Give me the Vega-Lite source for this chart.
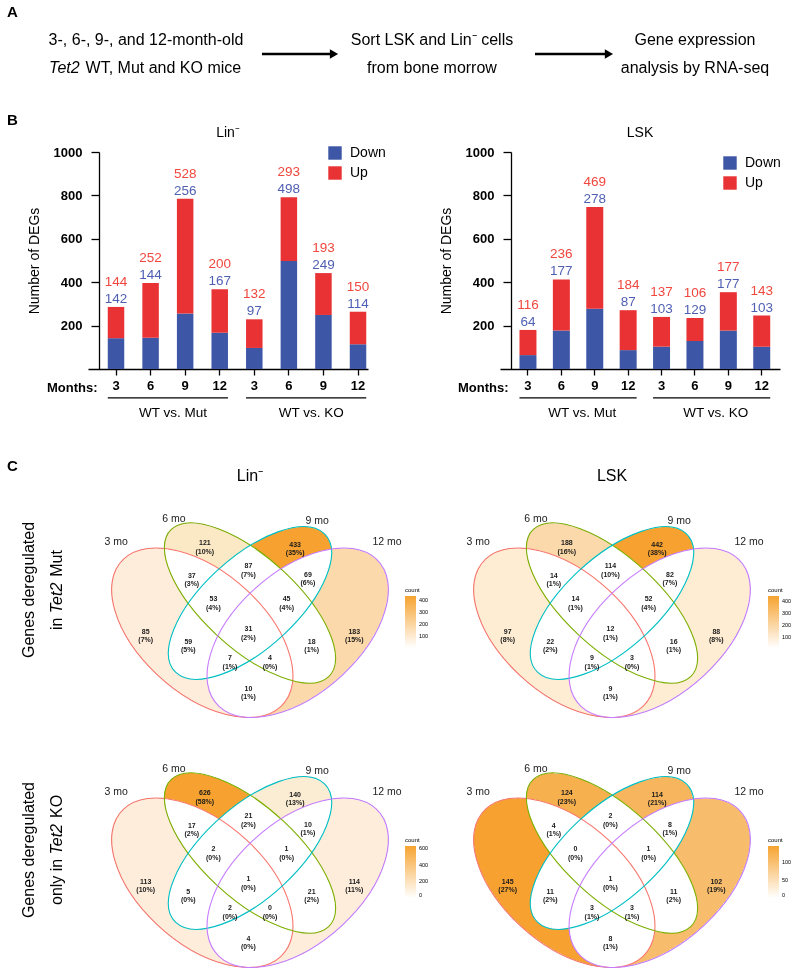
{
"$schema": "https://vega.github.io/schema/vega-lite/v6.json",
"background": "white",
"padding": 0,
"config": {
  "font": "Liberation Sans",
  "view": {"stroke": null},
  "axis": {"grid": false, "domainColor": "black", "tickColor": "black", "labelColor": "black", "titleColor": "black"},
  "title": {"color": "black", "fontWeight": "normal", "font": "Liberation Sans"},
  "legend": {"labelColor": "black", "titleColor": "black"}
},
"datasets": {
  "bars": [
    {"cell":"Lin","key":"Mut 3","dir":"Down","n":142},{"cell":"Lin","key":"Mut 3","dir":"Up","n":144},
    {"cell":"Lin","key":"Mut 6","dir":"Down","n":144},{"cell":"Lin","key":"Mut 6","dir":"Up","n":252},
    {"cell":"Lin","key":"Mut 9","dir":"Down","n":256},{"cell":"Lin","key":"Mut 9","dir":"Up","n":528},
    {"cell":"Lin","key":"Mut 12","dir":"Down","n":167},{"cell":"Lin","key":"Mut 12","dir":"Up","n":200},
    {"cell":"Lin","key":"KO 3","dir":"Down","n":97},{"cell":"Lin","key":"KO 3","dir":"Up","n":132},
    {"cell":"Lin","key":"KO 6","dir":"Down","n":498},{"cell":"Lin","key":"KO 6","dir":"Up","n":293},
    {"cell":"Lin","key":"KO 9","dir":"Down","n":249},{"cell":"Lin","key":"KO 9","dir":"Up","n":193},
    {"cell":"Lin","key":"KO 12","dir":"Down","n":114},{"cell":"Lin","key":"KO 12","dir":"Up","n":150},
    {"cell":"LSK","key":"Mut 3","dir":"Down","n":64},{"cell":"LSK","key":"Mut 3","dir":"Up","n":116},
    {"cell":"LSK","key":"Mut 6","dir":"Down","n":177},{"cell":"LSK","key":"Mut 6","dir":"Up","n":236},
    {"cell":"LSK","key":"Mut 9","dir":"Down","n":278},{"cell":"LSK","key":"Mut 9","dir":"Up","n":469},
    {"cell":"LSK","key":"Mut 12","dir":"Down","n":87},{"cell":"LSK","key":"Mut 12","dir":"Up","n":184},
    {"cell":"LSK","key":"KO 3","dir":"Down","n":103},{"cell":"LSK","key":"KO 3","dir":"Up","n":137},
    {"cell":"LSK","key":"KO 6","dir":"Down","n":129},{"cell":"LSK","key":"KO 6","dir":"Up","n":106},
    {"cell":"LSK","key":"KO 9","dir":"Down","n":177},{"cell":"LSK","key":"KO 9","dir":"Up","n":177},
    {"cell":"LSK","key":"KO 12","dir":"Down","n":103},{"cell":"LSK","key":"KO 12","dir":"Up","n":143}
  ],
  "groups": [
    {"from":"Mut 3","to":"Mut 12","mid":"Mut 9","label":"WT vs. Mut"},
    {"from":"KO 3","to":"KO 12","mid":"KO 9","label":"WT vs. KO"}
  ],
  "ellipses": [
    {"set":"3 mo","cx":0.35,"cy":0.47,"lx":0.079,"ly":0.776},
    {"set":"6 mo","cx":0.5,"cy":0.57,"lx":0.261,"ly":0.853},
    {"set":"9 mo","cx":0.5,"cy":0.57,"lx":0.711,"ly":0.847},
    {"set":"12 mo","cx":0.65,"cy":0.47,"lx":0.931,"ly":0.776}
  ],
  "regions": [
    {"id":"A","x":0.172,"y":0.46},{"id":"B","x":0.358,"y":0.758},{"id":"C","x":0.642,"y":0.752},{"id":"D","x":0.828,"y":0.46},
    {"id":"AB","x":0.317,"y":0.648},{"id":"BC","x":0.495,"y":0.68},{"id":"CD","x":0.682,"y":0.651},
    {"id":"ABC","x":0.385,"y":0.57},{"id":"BCD","x":0.615,"y":0.57},{"id":"ABCD","x":0.495,"y":0.469},
    {"id":"AC","x":0.306,"y":0.427},{"id":"BD","x":0.694,"y":0.427},
    {"id":"ACD","x":0.437,"y":0.37},{"id":"ABD","x":0.563,"y":0.37},{"id":"AD","x":0.495,"y":0.269}
  ],
  "counts": [
    {"venn":"LinMut","id":"A","n":85,"p":"(7%)"},{"venn":"LinMut","id":"B","n":121,"p":"(10%)"},{"venn":"LinMut","id":"C","n":433,"p":"(35%)"},{"venn":"LinMut","id":"D","n":183,"p":"(15%)"},
    {"venn":"LinMut","id":"AB","n":37,"p":"(3%)"},{"venn":"LinMut","id":"BC","n":87,"p":"(7%)"},{"venn":"LinMut","id":"CD","n":69,"p":"(6%)"},
    {"venn":"LinMut","id":"ABC","n":53,"p":"(4%)"},{"venn":"LinMut","id":"BCD","n":45,"p":"(4%)"},{"venn":"LinMut","id":"ABCD","n":31,"p":"(2%)"},
    {"venn":"LinMut","id":"AC","n":59,"p":"(5%)"},{"venn":"LinMut","id":"BD","n":18,"p":"(1%)"},
    {"venn":"LinMut","id":"ACD","n":7,"p":"(1%)"},{"venn":"LinMut","id":"ABD","n":4,"p":"(0%)"},{"venn":"LinMut","id":"AD","n":10,"p":"(1%)"},
    {"venn":"LskMut","id":"A","n":97,"p":"(8%)"},{"venn":"LskMut","id":"B","n":188,"p":"(16%)"},{"venn":"LskMut","id":"C","n":442,"p":"(38%)"},{"venn":"LskMut","id":"D","n":88,"p":"(8%)"},
    {"venn":"LskMut","id":"AB","n":14,"p":"(1%)"},{"venn":"LskMut","id":"BC","n":114,"p":"(10%)"},{"venn":"LskMut","id":"CD","n":82,"p":"(7%)"},
    {"venn":"LskMut","id":"ABC","n":14,"p":"(1%)"},{"venn":"LskMut","id":"BCD","n":52,"p":"(4%)"},{"venn":"LskMut","id":"ABCD","n":12,"p":"(1%)"},
    {"venn":"LskMut","id":"AC","n":22,"p":"(2%)"},{"venn":"LskMut","id":"BD","n":16,"p":"(1%)"},
    {"venn":"LskMut","id":"ACD","n":9,"p":"(1%)"},{"venn":"LskMut","id":"ABD","n":3,"p":"(0%)"},{"venn":"LskMut","id":"AD","n":9,"p":"(1%)"},
    {"venn":"LinKO","id":"A","n":113,"p":"(10%)"},{"venn":"LinKO","id":"B","n":626,"p":"(58%)"},{"venn":"LinKO","id":"C","n":140,"p":"(13%)"},{"venn":"LinKO","id":"D","n":114,"p":"(11%)"},
    {"venn":"LinKO","id":"AB","n":17,"p":"(2%)"},{"venn":"LinKO","id":"BC","n":21,"p":"(2%)"},{"venn":"LinKO","id":"CD","n":10,"p":"(1%)"},
    {"venn":"LinKO","id":"ABC","n":2,"p":"(0%)"},{"venn":"LinKO","id":"BCD","n":1,"p":"(0%)"},{"venn":"LinKO","id":"ABCD","n":1,"p":"(0%)"},
    {"venn":"LinKO","id":"AC","n":5,"p":"(0%)"},{"venn":"LinKO","id":"BD","n":21,"p":"(2%)"},
    {"venn":"LinKO","id":"ACD","n":2,"p":"(0%)"},{"venn":"LinKO","id":"ABD","n":0,"p":"(0%)"},{"venn":"LinKO","id":"AD","n":4,"p":"(0%)"},
    {"venn":"LskKO","id":"A","n":145,"p":"(27%)"},{"venn":"LskKO","id":"B","n":124,"p":"(23%)"},{"venn":"LskKO","id":"C","n":114,"p":"(21%)"},{"venn":"LskKO","id":"D","n":102,"p":"(19%)"},
    {"venn":"LskKO","id":"AB","n":4,"p":"(1%)"},{"venn":"LskKO","id":"BC","n":2,"p":"(0%)"},{"venn":"LskKO","id":"CD","n":8,"p":"(1%)"},
    {"venn":"LskKO","id":"ABC","n":0,"p":"(0%)"},{"venn":"LskKO","id":"BCD","n":1,"p":"(0%)"},{"venn":"LskKO","id":"ABCD","n":1,"p":"(0%)"},
    {"venn":"LskKO","id":"AC","n":11,"p":"(2%)"},{"venn":"LskKO","id":"BD","n":11,"p":"(2%)"},
    {"venn":"LskKO","id":"ACD","n":3,"p":"(1%)"},{"venn":"LskKO","id":"ABD","n":3,"p":"(1%)"},{"venn":"LskKO","id":"AD","n":8,"p":"(1%)"}
  ]
},
"bounds": "flush",
"spacing": 52,
"resolve": {"scale": {"x":"independent","y":"independent","color":"independent","fill":"independent","stroke":"independent","shape":"independent"},"legend":{"color":"independent"}},
"vconcat": [
  {
    "width": 796, "height": 100,
    "data": {"values": [{}]},
    "layer": [
      {"mark": {"type":"text","text":"A","fontSize":15,"fontWeight":"bold","align":"left","baseline":"middle"},
       "encoding": {"x":{"datum":0.88,"type":"quantitative","scale":{"domain":[0,100],"nice":false,"zero":false},"axis":null},
                    "y":{"datum":12,"type":"quantitative","scale":{"domain":[0,100],"nice":false,"zero":false,"reverse":true},"axis":null}}},
      {"mark": {"type":"text","text":"B","fontSize":15,"fontWeight":"bold","align":"left","baseline":"middle"},
       "encoding": {"x":{"datum":0.88,"type":"quantitative"},"y":{"datum":120,"type":"quantitative"}}},
      {"mark": {"type":"text","text":"C","fontSize":15,"fontWeight":"bold","align":"left","baseline":"middle"},
       "encoding": {"x":{"datum":0.88,"type":"quantitative"},"y":{"datum":466,"type":"quantitative"}}},
      {"mark": {"type":"text","text":"3-, 6-, 9-, and 12-month-old","fontSize":16,"align":"center","baseline":"middle"},
       "encoding": {"x":{"datum":18.34,"type":"quantitative"},"y":{"datum":40,"type":"quantitative"}}},
      {"mark": {"type":"text","text":"Tet2","fontSize":16,"fontStyle":"italic","align":"left","baseline":"middle"},
       "encoding": {"x":{"datum":6.17,"type":"quantitative"},"y":{"datum":68,"type":"quantitative"}}},
      {"mark": {"type":"text","text":"WT, Mut and KO mice","fontSize":16,"align":"left","baseline":"middle"},
       "encoding": {"x":{"datum":10.75,"type":"quantitative"},"y":{"datum":68,"type":"quantitative"}}},
      {"mark": {"type":"text","text":"Sort LSK and Lin⁻ cells","fontSize":16,"align":"center","baseline":"middle"},
       "encoding": {"x":{"datum":54.27,"type":"quantitative"},"y":{"datum":40,"type":"quantitative"}}},
      {"mark": {"type":"text","text":"from bone morrow","fontSize":16,"align":"center","baseline":"middle"},
       "encoding": {"x":{"datum":54.27,"type":"quantitative"},"y":{"datum":68,"type":"quantitative"}}},
      {"mark": {"type":"text","text":"Gene expression","fontSize":16,"align":"center","baseline":"middle"},
       "encoding": {"x":{"datum":87.31,"type":"quantitative"},"y":{"datum":40,"type":"quantitative"}}},
      {"mark": {"type":"text","text":"analysis by RNA-seq","fontSize":16,"align":"center","baseline":"middle"},
       "encoding": {"x":{"datum":87.31,"type":"quantitative"},"y":{"datum":68,"type":"quantitative"}}},
      {"mark": {"type":"rule","strokeWidth":2.5,"color":"black"},
       "encoding": {"x":{"datum":32.91,"type":"quantitative"},"x2":{"datum":41.71},"y":{"datum":54,"type":"quantitative"}}},
      {"mark": {"type":"rule","strokeWidth":2.5,"color":"black"},
       "encoding": {"x":{"datum":67.21,"type":"quantitative"},"x2":{"datum":76.26},"y":{"datum":54,"type":"quantitative"}}},
      {"mark": {"type":"point","shape":"triangle-right","filled":true,"color":"black","opacity":1,"size":90},
       "encoding": {"x":{"datum":41.96,"type":"quantitative"},"y":{"datum":54,"type":"quantitative"}}},
      {"mark": {"type":"point","shape":"triangle-right","filled":true,"color":"black","opacity":1,"size":90},
       "encoding": {"x":{"datum":76.5,"type":"quantitative"},"y":{"datum":54,"type":"quantitative"}}}
    ]
  },
  {
    "columns": 3,
    "align": "each",
    "bounds": "flush",
    "spacing": {"row": 121, "column": 44},
    "resolve": {"scale": {"x":"independent","y":"independent","color":"independent","fill":"independent","stroke":"independent","shape":"independent"},"legend":{"color":"independent"}},
    "concat": [
      {
        "width": 44, "height": 217,
        "data": {"values": [{}]},
        "mark": {"type":"text","text":""},
        "encoding": {}
      },
      {
        "width": 280, "height": 217,
        "title": {"text":"Lin⁻","fontSize":14,"offset":6},
        "layer": [
          {"data": {"name":"bars"},
           "transform": [{"filter":"datum.cell == 'Lin'"}],
           "mark": {"type":"bar"},
           "encoding": {
             "x": {"field":"key","type":"nominal",
                   "scale":{"type":"band","domain":["Mut 3","Mut 6","Mut 9","Mut 12","KO 3","KO 6","KO 9","KO 12"],"paddingInner":0.523,"paddingOuter":0.311,"align":0.919},
                   "axis":{"title":"Months:","labelExpr":"split(datum.label, ' ')[1]","labelAngle":0,"labelFontSize":13,"labelFontWeight":"bold","tickSize":6,"tickWidth":1.3,"domainWidth":1.3,"labelPadding":4,"titleX":9,"titleY":18,"titleAlign":"right","titleBaseline":"middle","titleFontSize":13,"titleFontWeight":"bold","titleAnchor":"start"}},
             "y": {"field":"n","type":"quantitative","stack":"zero",
                   "scale":{"domain":[0,1000],"nice":false,"zero":true},
                   "axis":{"title":"Number of DEGs","values":[200,400,600,800,1000],"format":"d","offset":-11,"tickSize":8,"tickWidth":1.3,"domainWidth":1.3,"labelFontSize":13,"labelFontWeight":"bold","labelPadding":9,"titleFontSize":14,"titleFontWeight":"normal","titlePadding":12}},
             "color": {"field":"dir","type":"nominal","scale":{"domain":["Down","Up"],"range":["#3D56A6","#E93234"]},
                       "legend":{"title":null,"orient":"none","legendX":240,"legendY":-6,"symbolType":"square","symbolSize":180,"symbolStrokeWidth":0,"labelFontSize":14,"labelOffset":8,"rowPadding":6,"padding":0}},
             "order": {"field":"dir","sort":"ascending"}
           }},
          {"data": {"name":"bars"},
           "transform": [{"filter":"datum.cell == 'Lin'"},{"joinaggregate":[{"op":"sum","field":"n","as":"total"}],"groupby":["key"]},{"filter":"datum.dir == 'Down'"}],
           "mark": {"type":"text","fontSize":13.5,"dy":-8,"color":"#4F5FB2","baseline":"middle"},
           "encoding": {"x":{"field":"key","type":"nominal"},"y":{"field":"total","type":"quantitative"},"text":{"field":"n","type":"quantitative"}}},
          {"data": {"name":"bars"},
           "transform": [{"filter":"datum.cell == 'Lin'"},{"joinaggregate":[{"op":"sum","field":"n","as":"total"}],"groupby":["key"]},{"filter":"datum.dir == 'Up'"}],
           "mark": {"type":"text","fontSize":13.5,"dy":-25,"color":"#F0473E","baseline":"middle"},
           "encoding": {"x":{"field":"key","type":"nominal"},"y":{"field":"total","type":"quantitative"},"text":{"field":"n","type":"quantitative"}}},
          {"data": {"name":"groups"},
           "mark": {"type":"rule","strokeWidth":1.3,"color":"black"},
           "encoding": {"x":{"field":"from","type":"nominal","bandPosition":0},"x2":{"field":"to","bandPosition":1},"y":{"datum":-133,"type":"quantitative"}}},
          {"data": {"name":"groups"},
           "mark": {"type":"text","fontSize":13.5,"dx":-4,"baseline":"middle"},
           "encoding": {"x":{"field":"mid","type":"nominal","bandPosition":0},"y":{"datum":-205,"type":"quantitative"},"text":{"field":"label"}}}
        ]
      },
      {
        "width": 280, "height": 217,
        "title": {"text":"LSK","fontSize":14,"offset":6},
        "layer": [
          {"data": {"name":"bars"},
           "transform": [{"filter":"datum.cell == 'LSK'"}],
           "mark": {"type":"bar"},
           "encoding": {
             "x": {"field":"key","type":"nominal",
                   "scale":{"type":"band","domain":["Mut 3","Mut 6","Mut 9","Mut 12","KO 3","KO 6","KO 9","KO 12"],"paddingInner":0.4915,"paddingOuter":0.438,"align":0.666},
                   "axis":{"title":"Months:","labelExpr":"split(datum.label, ' ')[1]","labelAngle":0,"labelFontSize":13,"labelFontWeight":"bold","tickSize":6,"tickWidth":1.3,"domainWidth":1.3,"labelPadding":4,"titleX":8,"titleY":18,"titleAlign":"right","titleBaseline":"middle","titleFontSize":13,"titleFontWeight":"bold","titleAnchor":"start"}},
             "y": {"field":"n","type":"quantitative","stack":"zero",
                   "scale":{"domain":[0,1000],"nice":false,"zero":true},
                   "axis":{"title":"Number of DEGs","values":[200,400,600,800,1000],"format":"d","offset":-11,"tickSize":8,"tickWidth":1.3,"domainWidth":1.3,"labelFontSize":13,"labelFontWeight":"bold","labelPadding":9,"titleFontSize":14,"titleFontWeight":"normal","titlePadding":12}},
             "color": {"field":"dir","type":"nominal","scale":{"domain":["Down","Up"],"range":["#3D56A6","#E93234"]},
                       "legend":{"title":null,"orient":"none","legendX":223,"legendY":4,"symbolType":"square","symbolSize":180,"symbolStrokeWidth":0,"labelFontSize":14,"labelOffset":8,"rowPadding":6,"padding":0}},
             "order": {"field":"dir","sort":"ascending"}
           }},
          {"data": {"name":"bars"},
           "transform": [{"filter":"datum.cell == 'LSK'"},{"joinaggregate":[{"op":"sum","field":"n","as":"total"}],"groupby":["key"]},{"filter":"datum.dir == 'Down'"}],
           "mark": {"type":"text","fontSize":13.5,"dy":-8,"color":"#4F5FB2","baseline":"middle"},
           "encoding": {"x":{"field":"key","type":"nominal"},"y":{"field":"total","type":"quantitative"},"text":{"field":"n","type":"quantitative"}}},
          {"data": {"name":"bars"},
           "transform": [{"filter":"datum.cell == 'LSK'"},{"joinaggregate":[{"op":"sum","field":"n","as":"total"}],"groupby":["key"]},{"filter":"datum.dir == 'Up'"}],
           "mark": {"type":"text","fontSize":13.5,"dy":-25,"color":"#F0473E","baseline":"middle"},
           "encoding": {"x":{"field":"key","type":"nominal"},"y":{"field":"total","type":"quantitative"},"text":{"field":"n","type":"quantitative"}}},
          {"data": {"name":"groups"},
           "mark": {"type":"rule","strokeWidth":1.3,"color":"black"},
           "encoding": {"x":{"field":"from","type":"nominal","bandPosition":0},"x2":{"field":"to","bandPosition":1},"y":{"datum":-133,"type":"quantitative"}}},
          {"data": {"name":"groups"},
           "mark": {"type":"text","fontSize":13.5,"dx":-4,"baseline":"middle"},
           "encoding": {"x":{"field":"mid","type":"nominal","bandPosition":0},"y":{"datum":-205,"type":"quantitative"},"text":{"field":"label"}}}
        ]
      },
      {
        "width": 44, "height": 129,
        "data": {"values": [{}]},
        "layer": [
          {"mark":{"type":"text","text":"Genes deregulated","angle":270,"fontSize":16,"align":"center","baseline":"middle"},
           "encoding":{"x":{"datum":0.659,"type":"quantitative","scale":{"domain":[0,1],"nice":false,"zero":false},"axis":null},"y":{"datum":0.2248,"type":"quantitative","scale":{"domain":[0,1],"nice":false,"zero":false},"axis":null}}},
          {"mark":{"type":"text","text":"in","angle":270,"fontSize":16,"align":"left","baseline":"middle"},
           "encoding":{"x":{"datum":1.295,"type":"quantitative"},"y":{"datum":-0.0853,"type":"quantitative"}}},
          {"mark":{"type":"text","text":"Tet2","angle":270,"fontSize":16,"fontStyle":"italic","align":"left","baseline":"middle"},
           "encoding":{"x":{"datum":1.295,"type":"quantitative"},"y":{"datum":0.045,"type":"quantitative"}}},
          {"mark":{"type":"text","text":"Mut","angle":270,"fontSize":16,"align":"left","baseline":"middle"},
           "encoding":{"x":{"datum":1.295,"type":"quantitative"},"y":{"datum":0.327,"type":"quantitative"}}}
        ]
      },
      {
        "width": 368, "height": 129,
        "title": {"text":"Lin⁻","fontSize":16,"offset":6,"dx":-22},
        "layer": [
          {"data":{"name":"ellipses"},
           "mark":{"type":"point","filled":true,"fill":"rgb(60,40,24)","opacity":1,"size":40000,"strokeWidth":0},
           "encoding":{"x":{"field":"cx","type":"quantitative","scale":{"domain":[-0.00943,1.1478],"nice":false,"zero":false},"axis":null},
                       "y":{"field":"cy","type":"quantitative","scale":{"domain":[0.5162,0.95],"nice":false,"zero":false},"axis":null},
                       "shape":{"field":"set","type":"nominal","scale":{"domain":["3 mo","6 mo","9 mo","12 mo"],"range":["M-0.787,-0.736C-1.0354,-0.5037,-0.8843,0.0141,-0.4497,0.4206C-0.0151,0.8271,0.5386,0.9683,0.787,0.736C1.0354,0.5037,0.8843,-0.0141,0.4497,-0.4206C0.0151,-0.8271,-0.5386,-0.9683,-0.787,-0.736Z","M-0.787,-0.736C-0.9733,-0.5618,-0.7719,-0.0911,-0.3373,0.3154C0.0973,0.7219,0.6007,0.9102,0.787,0.736C0.9733,0.5618,0.7719,0.0911,0.3373,-0.3154C-0.0973,-0.7219,-0.6007,-0.9102,-0.787,-0.736Z","M0.742,-0.694C0.5557,-0.8682,0.0725,-0.6987,-0.3373,-0.3154C-0.7471,0.0679,-0.9283,0.5198,-0.742,0.694C-0.5557,0.8682,-0.0725,0.6987,0.3373,0.3154C0.7471,-0.0679,0.9283,-0.5198,0.742,-0.694Z","M0.787,-0.736C1.0354,-0.5037,0.8843,0.0141,0.4497,0.4206C0.0151,0.8271,-0.5386,0.9683,-0.787,0.736C-1.0354,0.5037,-0.8843,-0.0141,-0.4497,-0.4206C-0.0151,-0.8271,0.5386,-0.9683,0.787,-0.736Z"]},"legend":null}}},
          {"data":{"name":"ellipses"},
           "mark":{"type":"point","filled":true,"opacity":1,"size":40000,"strokeWidth":0,"blend":"color-dodge"},
           "encoding":{"x":{"field":"cx","type":"quantitative"},"y":{"field":"cy","type":"quantitative"},"shape":{"field":"set","type":"nominal","legend":null},
                       "fill":{"field":"set","type":"nominal","scale":{"domain":["3 mo","6 mo","9 mo","12 mo"],"range":["rgb(195,212,227)","rgb(194,211,224)","rgb(193,192,128)","rgb(194,208,219)"]},"legend":null}}},
          {"data":{"name":"ellipses"},
           "mark":{"type":"point","filled":false,"opacity":1,"size":40000,"strokeWidth":1.1},
           "encoding":{"x":{"field":"cx","type":"quantitative"},"y":{"field":"cy","type":"quantitative"},"shape":{"field":"set","type":"nominal","legend":null},
                       "stroke":{"field":"set","type":"nominal","scale":{"domain":["3 mo","6 mo","9 mo","12 mo"],"range":["#F8766D","#7CAE00","#00BFC4","#C77CFF"]},"legend":null}}},
          {"data":{"name":"ellipses"},
           "mark":{"type":"text","fontSize":10.5,"color":"#222222"},
           "encoding":{"x":{"field":"lx","type":"quantitative"},"y":{"field":"ly","type":"quantitative"},"text":{"field":"set"}}},
          {"data":{"name":"counts"},
           "transform":[{"filter":"datum.venn == 'LinMut'"},{"lookup":"id","from":{"data":{"name":"regions"},"key":"id","fields":["x","y"]}}],
           "mark":{"type":"text","fontSize":7,"fontWeight":"bold","color":"#1a1a1a","dy":-4},
           "encoding":{"x":{"field":"x","type":"quantitative"},"y":{"field":"y","type":"quantitative"},"text":{"field":"n","type":"quantitative"}}},
          {"data":{"name":"counts"},
           "transform":[{"filter":"datum.venn == 'LinMut'"},{"lookup":"id","from":{"data":{"name":"regions"},"key":"id","fields":["x","y"]}}],
           "mark":{"type":"text","fontSize":7,"fontWeight":"bold","color":"#1a1a1a","dy":4.5},
           "encoding":{"x":{"field":"x","type":"quantitative"},"y":{"field":"y","type":"quantitative"},"text":{"field":"p"}}},
          {"data":{"name":"counts"},
           "transform":[{"filter":"datum.venn == 'LinMut'"},{"lookup":"id","from":{"data":{"name":"regions"},"key":"id","fields":["x","y"]}}],
           "mark":{"type":"point","size":0,"opacity":1,"filled":true},
           "encoding":{"x":{"field":"x","type":"quantitative"},"y":{"field":"y","type":"quantitative"},
                       "color":{"field":"n","type":"quantitative","scale":{"range":["#FFFFFF","#F6A330"],"interpolate":"rgb"},
                                "legend":{"title":"count","type":"gradient","orient":"none","legendX":317,"legendY":97,"direction":"vertical","gradientLength":52,"gradientThickness":11,"titleFontSize":6,"titleFontWeight":"normal","labelFontSize":5.5,"titlePadding":3,"labelOffset":3,"gradientStrokeWidth":0,"tickCount":4}}}}
        ]
      },
      {
        "width": 280, "height": 129,
        "title": {"text":"LSK","fontSize":16,"offset":6,"dx":-28},
        "layer": [
          {"data":{"name":"ellipses"},
           "mark":{"type":"point","filled":true,"fill":"rgb(60,40,24)","opacity":1,"size":40000,"strokeWidth":0},
           "encoding":{"x":{"field":"cx","type":"quantitative","scale":{"domain":[0.1478,1.0283],"nice":false,"zero":false},"axis":null},
                       "y":{"field":"cy","type":"quantitative","scale":{"domain":[0.5162,0.95],"nice":false,"zero":false},"axis":null},
                       "shape":{"field":"set","type":"nominal","scale":{"domain":["3 mo","6 mo","9 mo","12 mo"],"range":["M-0.787,-0.736C-1.0354,-0.5037,-0.8843,0.0141,-0.4497,0.4206C-0.0151,0.8271,0.5386,0.9683,0.787,0.736C1.0354,0.5037,0.8843,-0.0141,0.4497,-0.4206C0.0151,-0.8271,-0.5386,-0.9683,-0.787,-0.736Z","M-0.787,-0.736C-0.9733,-0.5618,-0.7719,-0.0911,-0.3373,0.3154C0.0973,0.7219,0.6007,0.9102,0.787,0.736C0.9733,0.5618,0.7719,0.0911,0.3373,-0.3154C-0.0973,-0.7219,-0.6007,-0.9102,-0.787,-0.736Z","M0.742,-0.694C0.5557,-0.8682,0.0725,-0.6987,-0.3373,-0.3154C-0.7471,0.0679,-0.9283,0.5198,-0.742,0.694C-0.5557,0.8682,-0.0725,0.6987,0.3373,0.3154C0.7471,-0.0679,0.9283,-0.5198,0.742,-0.694Z","M0.787,-0.736C1.0354,-0.5037,0.8843,0.0141,0.4497,0.4206C0.0151,0.8271,-0.5386,0.9683,-0.787,0.736C-1.0354,0.5037,-0.8843,-0.0141,-0.4497,-0.4206C-0.0151,-0.8271,0.5386,-0.9683,0.787,-0.736Z"]},"legend":null}}},
          {"data":{"name":"ellipses"},
           "mark":{"type":"point","filled":true,"opacity":1,"size":40000,"strokeWidth":0,"blend":"color-dodge"},
           "encoding":{"x":{"field":"cx","type":"quantitative"},"y":{"field":"cy","type":"quantitative"},"shape":{"field":"set","type":"nominal","legend":null},
                       "fill":{"field":"set","type":"nominal","scale":{"domain":["3 mo","6 mo","9 mo","12 mo"],"range":["rgb(195,212,226)","rgb(194,208,219)","rgb(193,192,128)","rgb(195,212,226)"]},"legend":null}}},
          {"data":{"name":"ellipses"},
           "mark":{"type":"point","filled":false,"opacity":1,"size":40000,"strokeWidth":1.1},
           "encoding":{"x":{"field":"cx","type":"quantitative"},"y":{"field":"cy","type":"quantitative"},"shape":{"field":"set","type":"nominal","legend":null},
                       "stroke":{"field":"set","type":"nominal","scale":{"domain":["3 mo","6 mo","9 mo","12 mo"],"range":["#F8766D","#7CAE00","#00BFC4","#C77CFF"]},"legend":null}}},
          {"data":{"name":"ellipses"},
           "mark":{"type":"text","fontSize":10.5,"color":"#222222"},
           "encoding":{"x":{"field":"lx","type":"quantitative"},"y":{"field":"ly","type":"quantitative"},"text":{"field":"set"}}},
          {"data":{"name":"counts"},
           "transform":[{"filter":"datum.venn == 'LskMut'"},{"lookup":"id","from":{"data":{"name":"regions"},"key":"id","fields":["x","y"]}}],
           "mark":{"type":"text","fontSize":7,"fontWeight":"bold","color":"#1a1a1a","dy":-4},
           "encoding":{"x":{"field":"x","type":"quantitative"},"y":{"field":"y","type":"quantitative"},"text":{"field":"n","type":"quantitative"}}},
          {"data":{"name":"counts"},
           "transform":[{"filter":"datum.venn == 'LskMut'"},{"lookup":"id","from":{"data":{"name":"regions"},"key":"id","fields":["x","y"]}}],
           "mark":{"type":"text","fontSize":7,"fontWeight":"bold","color":"#1a1a1a","dy":4.5},
           "encoding":{"x":{"field":"x","type":"quantitative"},"y":{"field":"y","type":"quantitative"},"text":{"field":"p"}}},
          {"data":{"name":"counts"},
           "transform":[{"filter":"datum.venn == 'LskMut'"},{"lookup":"id","from":{"data":{"name":"regions"},"key":"id","fields":["x","y"]}}],
           "mark":{"type":"point","size":0,"opacity":1,"filled":true},
           "encoding":{"x":{"field":"x","type":"quantitative"},"y":{"field":"y","type":"quantitative"},
                       "color":{"field":"n","type":"quantitative","scale":{"range":["#FFFFFF","#F6A330"],"interpolate":"rgb"},
                                "legend":{"title":"count","type":"gradient","orient":"none","legendX":268,"legendY":97,"direction":"vertical","gradientLength":52,"gradientThickness":11,"titleFontSize":6,"titleFontWeight":"normal","labelFontSize":5.5,"titlePadding":3,"labelOffset":3,"gradientStrokeWidth":0,"tickCount":4}}}}
        ]
      },
      {
        "width": 44, "height": 129,
        "data": {"values": [{}]},
        "layer": [
          {"mark":{"type":"text","text":"Genes deregulated","angle":270,"fontSize":16,"align":"center","baseline":"middle"},
           "encoding":{"x":{"datum":0.659,"type":"quantitative","scale":{"domain":[0,1],"nice":false,"zero":false},"axis":null},"y":{"datum":0.147,"type":"quantitative","scale":{"domain":[0,1],"nice":false,"zero":false},"axis":null}}},
          {"mark":{"type":"text","text":"only in","angle":270,"fontSize":16,"align":"left","baseline":"middle"},
           "encoding":{"x":{"datum":1.295,"type":"quantitative"},"y":{"datum":-0.279,"type":"quantitative"}}},
          {"mark":{"type":"text","text":"Tet2","angle":270,"fontSize":16,"fontStyle":"italic","align":"left","baseline":"middle"},
           "encoding":{"x":{"datum":1.295,"type":"quantitative"},"y":{"datum":0.112,"type":"quantitative"}}},
          {"mark":{"type":"text","text":"KO","angle":270,"fontSize":16,"align":"left","baseline":"middle"},
           "encoding":{"x":{"datum":1.295,"type":"quantitative"},"y":{"datum":0.395,"type":"quantitative"}}}
        ]
      },
      {
        "width": 368, "height": 129,
        "layer": [
          {"data":{"name":"ellipses"},
           "mark":{"type":"point","filled":true,"fill":"rgb(60,40,24)","opacity":1,"size":40000,"strokeWidth":0},
           "encoding":{"x":{"field":"cx","type":"quantitative","scale":{"domain":[-0.00943,1.1478],"nice":false,"zero":false},"axis":null},
                       "y":{"field":"cy","type":"quantitative","scale":{"domain":[0.5162,0.95],"nice":false,"zero":false},"axis":null},
                       "shape":{"field":"set","type":"nominal","scale":{"domain":["3 mo","6 mo","9 mo","12 mo"],"range":["M-0.787,-0.736C-1.0354,-0.5037,-0.8843,0.0141,-0.4497,0.4206C-0.0151,0.8271,0.5386,0.9683,0.787,0.736C1.0354,0.5037,0.8843,-0.0141,0.4497,-0.4206C0.0151,-0.8271,-0.5386,-0.9683,-0.787,-0.736Z","M-0.787,-0.736C-0.9733,-0.5618,-0.7719,-0.0911,-0.3373,0.3154C0.0973,0.7219,0.6007,0.9102,0.787,0.736C0.9733,0.5618,0.7719,0.0911,0.3373,-0.3154C-0.0973,-0.7219,-0.6007,-0.9102,-0.787,-0.736Z","M0.742,-0.694C0.5557,-0.8682,0.0725,-0.6987,-0.3373,-0.3154C-0.7471,0.0679,-0.9283,0.5198,-0.742,0.694C-0.5557,0.8682,-0.0725,0.6987,0.3373,0.3154C0.7471,-0.0679,0.9283,-0.5198,0.742,-0.694Z","M0.787,-0.736C1.0354,-0.5037,0.8843,0.0141,0.4497,0.4206C0.0151,0.8271,-0.5386,0.9683,-0.787,0.736C-1.0354,0.5037,-0.8843,-0.0141,-0.4497,-0.4206C-0.0151,-0.8271,0.5386,-0.9683,0.787,-0.736Z"]},"legend":null}}},
          {"data":{"name":"ellipses"},
           "mark":{"type":"point","filled":true,"opacity":1,"size":40000,"strokeWidth":0,"blend":"color-dodge"},
           "encoding":{"x":{"field":"cx","type":"quantitative"},"y":{"field":"cy","type":"quantitative"},"shape":{"field":"set","type":"nominal","legend":null},
                       "fill":{"field":"set","type":"nominal","scale":{"domain":["3 mo","6 mo","9 mo","12 mo"],"range":["rgb(195,212,227)","rgb(193,192,128)","rgb(194,212,226)","rgb(195,212,227)"]},"legend":null}}},
          {"data":{"name":"ellipses"},
           "mark":{"type":"point","filled":false,"opacity":1,"size":40000,"strokeWidth":1.1},
           "encoding":{"x":{"field":"cx","type":"quantitative"},"y":{"field":"cy","type":"quantitative"},"shape":{"field":"set","type":"nominal","legend":null},
                       "stroke":{"field":"set","type":"nominal","scale":{"domain":["3 mo","6 mo","9 mo","12 mo"],"range":["#F8766D","#7CAE00","#00BFC4","#C77CFF"]},"legend":null}}},
          {"data":{"name":"ellipses"},
           "mark":{"type":"text","fontSize":10.5,"color":"#222222"},
           "encoding":{"x":{"field":"lx","type":"quantitative"},"y":{"field":"ly","type":"quantitative"},"text":{"field":"set"}}},
          {"data":{"name":"counts"},
           "transform":[{"filter":"datum.venn == 'LinKO'"},{"lookup":"id","from":{"data":{"name":"regions"},"key":"id","fields":["x","y"]}}],
           "mark":{"type":"text","fontSize":7,"fontWeight":"bold","color":"#1a1a1a","dy":-4},
           "encoding":{"x":{"field":"x","type":"quantitative"},"y":{"field":"y","type":"quantitative"},"text":{"field":"n","type":"quantitative"}}},
          {"data":{"name":"counts"},
           "transform":[{"filter":"datum.venn == 'LinKO'"},{"lookup":"id","from":{"data":{"name":"regions"},"key":"id","fields":["x","y"]}}],
           "mark":{"type":"text","fontSize":7,"fontWeight":"bold","color":"#1a1a1a","dy":4.5},
           "encoding":{"x":{"field":"x","type":"quantitative"},"y":{"field":"y","type":"quantitative"},"text":{"field":"p"}}},
          {"data":{"name":"counts"},
           "transform":[{"filter":"datum.venn == 'LinKO'"},{"lookup":"id","from":{"data":{"name":"regions"},"key":"id","fields":["x","y"]}}],
           "mark":{"type":"point","size":0,"opacity":1,"filled":true},
           "encoding":{"x":{"field":"x","type":"quantitative"},"y":{"field":"y","type":"quantitative"},
                       "color":{"field":"n","type":"quantitative","scale":{"range":["#FFFFFF","#F6A330"],"interpolate":"rgb"},
                                "legend":{"title":"count","type":"gradient","orient":"none","legendX":317,"legendY":97,"direction":"vertical","gradientLength":52,"gradientThickness":11,"titleFontSize":6,"titleFontWeight":"normal","labelFontSize":5.5,"titlePadding":3,"labelOffset":3,"gradientStrokeWidth":0,"tickCount":4}}}}
        ]
      },
      {
        "width": 280, "height": 129,
        "layer": [
          {"data":{"name":"ellipses"},
           "mark":{"type":"point","filled":true,"fill":"rgb(60,40,12)","opacity":1,"size":40000,"strokeWidth":0},
           "encoding":{"x":{"field":"cx","type":"quantitative","scale":{"domain":[0.1478,1.0283],"nice":false,"zero":false},"axis":null},
                       "y":{"field":"cy","type":"quantitative","scale":{"domain":[0.5162,0.95],"nice":false,"zero":false},"axis":null},
                       "shape":{"field":"set","type":"nominal","scale":{"domain":["3 mo","6 mo","9 mo","12 mo"],"range":["M-0.787,-0.736C-1.0354,-0.5037,-0.8843,0.0141,-0.4497,0.4206C-0.0151,0.8271,0.5386,0.9683,0.787,0.736C1.0354,0.5037,0.8843,-0.0141,0.4497,-0.4206C0.0151,-0.8271,-0.5386,-0.9683,-0.787,-0.736Z","M-0.787,-0.736C-0.9733,-0.5618,-0.7719,-0.0911,-0.3373,0.3154C0.0973,0.7219,0.6007,0.9102,0.787,0.736C0.9733,0.5618,0.7719,0.0911,0.3373,-0.3154C-0.0973,-0.7219,-0.6007,-0.9102,-0.787,-0.736Z","M0.742,-0.694C0.5557,-0.8682,0.0725,-0.6987,-0.3373,-0.3154C-0.7471,0.0679,-0.9283,0.5198,-0.742,0.694C-0.5557,0.8682,-0.0725,0.6987,0.3373,0.3154C0.7471,-0.0679,0.9283,-0.5198,0.742,-0.694Z","M0.787,-0.736C1.0354,-0.5037,0.8843,0.0141,0.4497,0.4206C0.0151,0.8271,-0.5386,0.9683,-0.787,0.736C-1.0354,0.5037,-0.8843,-0.0141,-0.4497,-0.4206C-0.0151,-0.8271,0.5386,-0.9683,0.787,-0.736Z"]},"legend":null}}},
          {"data":{"name":"ellipses"},
           "mark":{"type":"point","filled":true,"opacity":1,"size":40000,"strokeWidth":0,"blend":"color-dodge"},
           "encoding":{"x":{"field":"cx","type":"quantitative"},"y":{"field":"cy","type":"quantitative"},"shape":{"field":"set","type":"nominal","legend":null},
                       "fill":{"field":"set","type":"nominal","scale":{"domain":["3 mo","6 mo","9 mo","12 mo"],"range":["rgb(193,192,191)","rgb(193,197,216)","rgb(193,199,222)","rgb(193,201,227)"]},"legend":null}}},
          {"data":{"name":"ellipses"},
           "mark":{"type":"point","filled":false,"opacity":1,"size":40000,"strokeWidth":1.1},
           "encoding":{"x":{"field":"cx","type":"quantitative"},"y":{"field":"cy","type":"quantitative"},"shape":{"field":"set","type":"nominal","legend":null},
                       "stroke":{"field":"set","type":"nominal","scale":{"domain":["3 mo","6 mo","9 mo","12 mo"],"range":["#F8766D","#7CAE00","#00BFC4","#C77CFF"]},"legend":null}}},
          {"data":{"name":"ellipses"},
           "mark":{"type":"text","fontSize":10.5,"color":"#222222"},
           "encoding":{"x":{"field":"lx","type":"quantitative"},"y":{"field":"ly","type":"quantitative"},"text":{"field":"set"}}},
          {"data":{"name":"counts"},
           "transform":[{"filter":"datum.venn == 'LskKO'"},{"lookup":"id","from":{"data":{"name":"regions"},"key":"id","fields":["x","y"]}}],
           "mark":{"type":"text","fontSize":7,"fontWeight":"bold","color":"#1a1a1a","dy":-4},
           "encoding":{"x":{"field":"x","type":"quantitative"},"y":{"field":"y","type":"quantitative"},"text":{"field":"n","type":"quantitative"}}},
          {"data":{"name":"counts"},
           "transform":[{"filter":"datum.venn == 'LskKO'"},{"lookup":"id","from":{"data":{"name":"regions"},"key":"id","fields":["x","y"]}}],
           "mark":{"type":"text","fontSize":7,"fontWeight":"bold","color":"#1a1a1a","dy":4.5},
           "encoding":{"x":{"field":"x","type":"quantitative"},"y":{"field":"y","type":"quantitative"},"text":{"field":"p"}}},
          {"data":{"name":"counts"},
           "transform":[{"filter":"datum.venn == 'LskKO'"},{"lookup":"id","from":{"data":{"name":"regions"},"key":"id","fields":["x","y"]}}],
           "mark":{"type":"point","size":0,"opacity":1,"filled":true},
           "encoding":{"x":{"field":"x","type":"quantitative"},"y":{"field":"y","type":"quantitative"},
                       "color":{"field":"n","type":"quantitative","scale":{"range":["#FFFFFF","#F6A330"],"interpolate":"rgb"},
                                "legend":{"title":"count","type":"gradient","orient":"none","legendX":268,"legendY":97,"direction":"vertical","gradientLength":52,"gradientThickness":11,"titleFontSize":6,"titleFontWeight":"normal","labelFontSize":5.5,"titlePadding":3,"labelOffset":3,"gradientStrokeWidth":0,"tickCount":4}}}}
        ]
      }
    ]
  }
]
}
